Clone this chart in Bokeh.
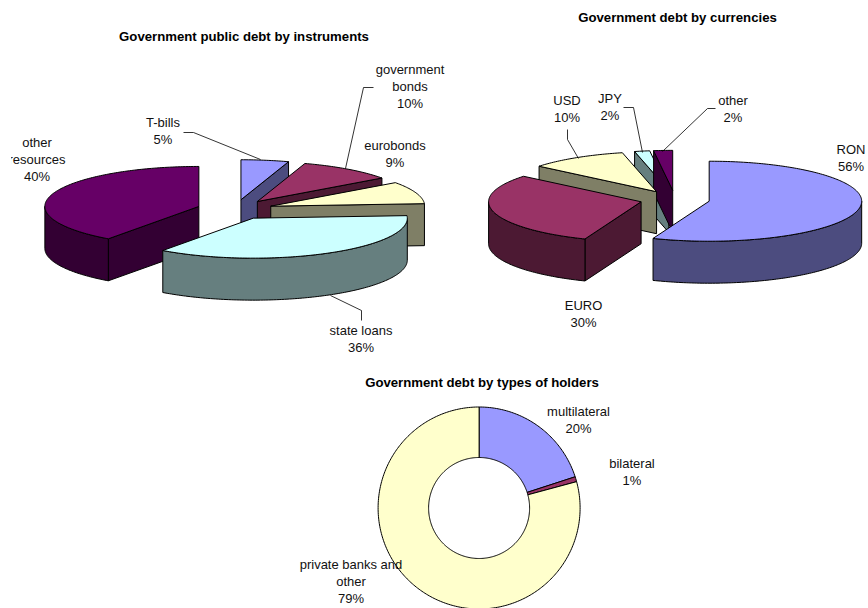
import math

from bokeh.core.properties import value
from bokeh.embed import file_html
from bokeh.models import Range1d
from bokeh.plotting import figure
from bokeh.resources import INLINE

# Shares in percent, clockwise from twelve o'clock; label percentages are these values rounded
instrument_names = ["T-bills", "government\nbonds", "eurobonds", "state loans", "other\nresources"]
instrument_values = [5, 10, 9, 36, 40]

currency_names = ["RON", "EURO", "USD", "JPY", "other"]
currency_values = [56, 30, 10.4, 1.6, 2.0]

holder_names = ["multilateral", "bilateral", "private banks and\nother"]
holder_values = [20, 0.8, 79.2]

palette = ["#9999FF", "#993366", "#FFFFCC", "#CCFFFF", "#660066"]
holder_palette = ["#9999FF", "#993366", "#FFFFCC"]

titles = ["Government public debt by instruments", "Government debt by currencies",
          "Government debt by types of holders"]
title_x = [243.5, 677, 481.5]
title_y = [36, 17, 382]

# Label anchors: horizontal centre and first text line, in slice order
instrument_label_x = [162.5, 409.5, 394.5, 360.5, 36.5]
instrument_label_y = [122, 69, 145, 330, 142]
currency_label_x = [850.5, 583, 566.5, 609.5, 732.5]
currency_label_y = [149, 305, 100, 98, 100]
holder_label_x = [578, 631.5, 350.5]
holder_label_y = [411, 463, 564]

LINE_STEP = 17


def darker(colour):
    """Half-intensity shade used on the vertical walls of a slice."""
    rgb = [int(colour[i:i + 2], 16) // 2 for i in (1, 3, 5)]
    return "#%02x%02x%02x" % tuple(rgb)


def ellipse_point(cx, cy, rx, ry, deg):
    a = math.radians(deg)
    return cx + rx * math.sin(a), cy - ry * math.cos(a)


def arc(cx, cy, rx, ry, start, end):
    n = max(2, int(abs(end - start)) + 2)
    return [ellipse_point(cx, cy, rx, ry, start + (end - start) * i / (n - 1)) for i in range(n)]


def exploded_pie(values, colours, order, cx, cy, rx, ry, depth, explode):
    """Return painter-ordered polygons for a tilted pie with pulled-out slices."""
    total = sum(values)
    spans, angle = [], 0.0
    for v in values:
        spans.append((angle, angle + 360.0 * v / total))
        angle += 360.0 * v / total

    xs, ys, fills = [], [], []

    def add(points, fill):
        xs.append([p[0] for p in points])
        ys.append([p[1] for p in points])
        fills.append(fill)

    for i in order:
        start, end = spans[i]
        mid = (start + end) / 2
        ax, ay = ellipse_point(cx, cy, explode, explode * ry / rx, mid)
        wall = darker(colours[i])
        # Radial cut faces that turn towards the viewer
        for edge, visible in ((start, math.sin(math.radians(start)) < -1e-6),
                              (end, math.sin(math.radians(end)) > 1e-6)):
            if visible:
                ox, oy = ellipse_point(ax, ay, rx, ry, edge)
                add([(ax, ay), (ox, oy), (ox, oy + depth), (ax, ay + depth)], wall)
        # Rim along the front half of the ellipse
        lo, hi = max(start, 90), min(end, 270)
        if hi > lo:
            rim = arc(ax, ay, rx, ry, lo, hi)
            add(rim + [(x, y + depth) for x, y in reversed(rim)], wall)
        # Top face
        add([(ax, ay)] + arc(ax, ay, rx, ry, start, end), colours[i])
    return xs, ys, fills


def donut(values, colours, cx, cy, outer, inner):
    total = sum(values)
    xs, ys, angle = [], [], 0.0
    for v in values:
        sweep = 360.0 * v / total
        pts = arc(cx, cy, outer, outer, angle, angle + sweep) + arc(cx, cy, inner, inner, angle + sweep, angle)
        xs.append([p[0] for p in pts])
        ys.append([p[1] for p in pts])
        angle += sweep
    return xs, ys, list(colours)


def label_rows(names, values, anchor_x, anchor_y):
    tx, ty, tt = [], [], []
    for name, v, x, y in zip(names, values, anchor_x, anchor_y):
        rows = name.split("\n") + ["%d%%" % round(v)]
        for k, row in enumerate(rows):
            tx.append(x)
            ty.append(y + k * LINE_STEP)
            tt.append(row)
    return tx, ty, tt


p = figure(width=868, height=608, output_backend="svg", toolbar_location=None,
           x_range=Range1d(0, 868), y_range=Range1d(608, 0),
           x_axis_type=None, y_axis_type=None, min_border=0,
           outline_line_color=None, background_fill_color="white")

# Left: debt by instruments
xs, ys, fills = exploded_pie(instrument_values, palette, [0, 1, 2, 4, 3],
                             234.5, 209, 154, 40, 42, 38)
p.patches(xs, ys, fill_color=fills, line_color="black", line_width=1)

# Right: debt by currencies
xs, ys, fills = exploded_pie(currency_values, palette, [3, 4, 2, 1, 0],
                             674.4, 199, 152.5, 40, 42, 34.9)
p.patches(xs, ys, fill_color=fills, line_color="black", line_width=1)

# Bottom: debt by holders
xs, ys, fills = donut(holder_values, holder_palette, 478.6, 507.5, 101, 50.5)
p.patches(xs, ys, fill_color=fills, line_color="black", line_width=1)

# Leader lines from labels to their slices
leader_x = [[183, 193, 260], [373, 363, 345], [361, 361, 330],
            [567, 567, 578], [623, 633, 642], [715, 707, 662]]
leader_y = [[132, 132, 159], [87, 87, 168], [320, 310, 295],
            [129, 139, 158], [107, 107, 152], [108, 108, 151]]
p.multi_line(leader_x, leader_y, line_color="black", line_width=0.8)

for names, vals, ax_, ay_ in ((instrument_names, instrument_values, instrument_label_x, instrument_label_y),
                              (currency_names, currency_values, currency_label_x, currency_label_y),
                              (holder_names, holder_values, holder_label_x, holder_label_y)):
    tx, ty, tt = label_rows(names, vals, ax_, ay_)
    p.text(tx, ty, text=tt, text_font=value("Liberation Sans"), text_font_size="13px",
           text_color="#111111", text_align="center", text_baseline="middle")

p.text(title_x, title_y, text=titles, text_font=value("Liberation Sans"), text_font_size="13.2px",
       text_font_style="bold", text_color="black", text_align="center", text_baseline="middle")

# The first column stops short of the page edge and trims the label there
p.quad(left=[0], right=[10.5], top=[130], bottom=[190], fill_color="white", line_color=None)

open("out.html", "w").write(file_html(p, INLINE))
